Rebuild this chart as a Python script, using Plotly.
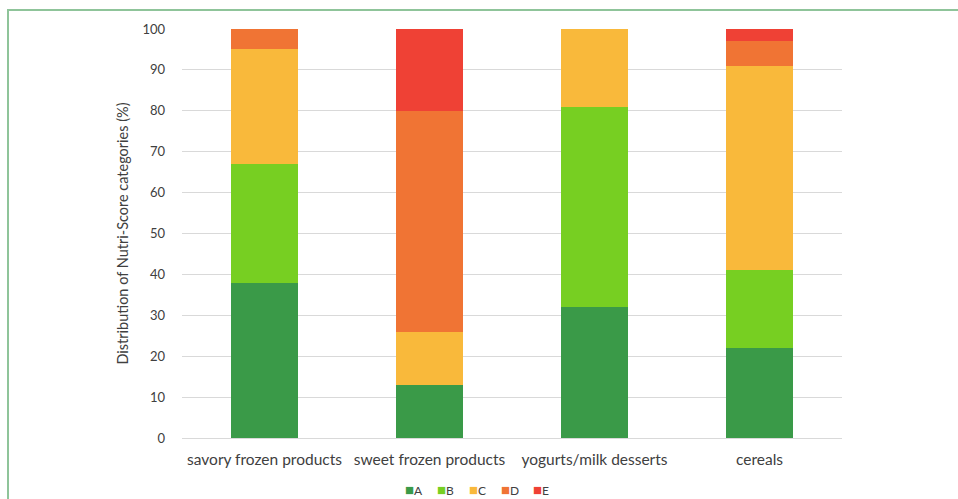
import plotly.graph_objects as go

categories = ["savory frozen products", "sweet frozen products", "yogurts/milk desserts", "cereals"]
grade_A = [38, 13, 32, 22]
grade_B = [29, 0, 49, 19]
grade_C = [28, 13, 19, 50]
grade_D = [5, 54, 0, 6]
grade_E = [0, 20, 0, 3]
series_names = ["A", "B", "C", "D", "E"]
series_values = [grade_A, grade_B, grade_C, grade_D, grade_E]
colors = ["#3a9a48", "#77cf22", "#f9b93b", "#f07434", "#ef4135"]
y_ticks = [0, 10, 20, 30, 40, 50, 60, 70, 80, 90, 100]

FONT = "Lato, Liberation Sans, sans-serif"

fig = go.Figure()
for name, vals, col in zip(series_names, series_values, colors):
    fig.add_trace(go.Bar(x=categories, y=vals, name=name, showlegend=False,
                         marker=dict(color=col, line=dict(width=0))))

W, H = 958, 499
ml, mr, mt, mb = 182, 116, 29, 61
pw, ph = W - ml - mr, H - mt - mb

# legend drawn as annotations (tight spacing like the reference)
legend_ann = []
lx0 = 403
for i, (name, col) in enumerate(zip(series_names, colors)):
    legend_ann.append(dict(
        xref="paper", yref="paper",
        x=(lx0 + i * 32 - ml) / pw, y=-(489 - (H - mb)) / ph,
        xanchor="left", yanchor="middle", showarrow=False,
        text=f"<span style='color:{col};font-size:15px'>■</span>{name}",
        font=dict(size=12, color="#404040"),
    ))

fig.update_layout(
    width=W, height=H,
    barmode="stack", bargap=0.59,
    margin=dict(l=ml, r=mr, t=mt, b=mb),
    plot_bgcolor="white", paper_bgcolor="white",
    font=dict(family=FONT, size=12, color="#404040"),
    xaxis=dict(showgrid=False, showline=False, ticks="", tickfont=dict(size=15.5), ticklabelstandoff=10),
    yaxis=dict(range=[0, 100], tickvals=y_ticks, gridcolor="#d9d9d9", gridwidth=1,
               zeroline=True, zerolinecolor="#d9d9d9", zerolinewidth=1,
               tickfont=dict(size=13), ticklabelstandoff=16,
               title=dict(text="Distribution of Nutri-Score categories (%)", font=dict(size=14.5), standoff=10)),
    showlegend=False,
    annotations=legend_ann,
    shapes=[dict(type="rect", xref="paper", yref="paper",
                 x0=(8 - ml) / pw, x1=(W + 20 - ml) / pw,
                 y0=-(mb + 20) / ph, y1=1 + (mt - 10) / ph,
                 line=dict(color="#8fc49a", width=2), fillcolor="rgba(0,0,0,0)", layer="below")],
)

fig.write_html("out.html", config={"displayModeBar": False},
               post_script="document.body.style.margin='0';document.body.style.overflow='hidden';")
